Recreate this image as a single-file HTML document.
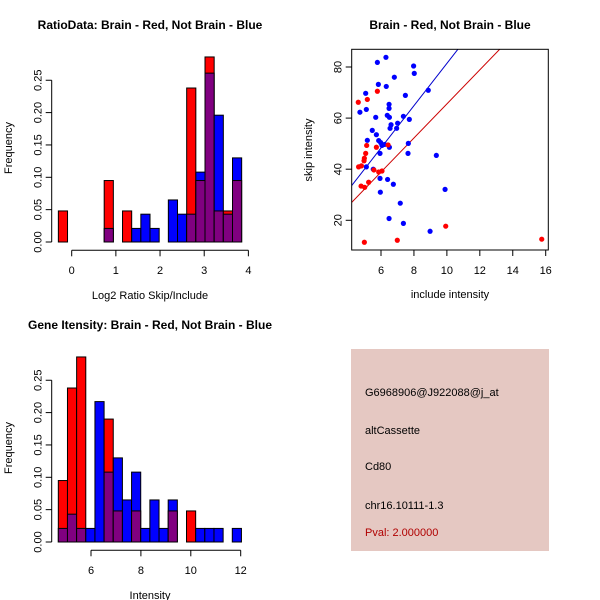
<!DOCTYPE html>
<html><head><meta charset="utf-8"><style>
body{margin:0;background:#fff}
svg{display:block;font-family:"Liberation Sans",sans-serif}
</style></head><body>
<svg id="s" width="600" height="600" xmlns="http://www.w3.org/2000/svg">
<rect width="600" height="600" fill="#fff"/>
<text x="150" y="29" font-size="12" font-weight="bold" text-anchor="middle">RatioData: Brain - Red, Not Brain - Blue</text>
<text x="450" y="29" font-size="12" font-weight="bold" text-anchor="middle">Brain - Red, Not Brain - Blue</text>
<text x="150" y="329" font-size="12" font-weight="bold" text-anchor="middle">Gene Itensity: Brain - Red, Not Brain - Blue</text>
<text x="150" y="299" font-size="11" text-anchor="middle">Log2 Ratio Skip/Include</text>
<text x="150" y="599" font-size="11" text-anchor="middle">Intensity</text>
<text x="450" y="298" font-size="11" text-anchor="middle">include intensity</text>
<text transform="translate(12,148) rotate(-90)" font-size="11" text-anchor="middle">Frequency</text>
<text transform="translate(12,448) rotate(-90)" font-size="11" text-anchor="middle">Frequency</text>
<text transform="translate(312,150) rotate(-90)" font-size="11" text-anchor="middle">skip intensity</text>
<g>
<rect x="351" y="349" width="198" height="202" fill="#e5c8c2"/>
<text x="365" y="396" font-size="11">G6968906@J922088@j_at</text>
<text x="365" y="434" font-size="11">altCassette</text>
<text x="365" y="470" font-size="11">Cd80</text>
<text x="365" y="509" font-size="11">chr16.10111-1.3</text>
<text x="365" y="536" font-size="11" fill="#b00000">Pval: 2.000000</text>
</g>
</svg>
<script>
const ratioRed=[0.048,0,0,0,0,0.095,0,0.048,0,0,0,0,0,0,0.238,0.095,0.286,0.048,0.048,0.095];
const ratioBlue=[0,0,0,0,0,0.021,0,0,0.021,0.043,0.021,0,0.065,0.043,0.043,0.108,0.261,0.196,0.043,0.13];
const ratioStart=-0.302, ratioWidth=0.2075;
const ratioXTicks=[0,1,2,3,4];
const geneRed=[0.095,0.238,0.286,0,0,0.19,0.048,0,0.048,0,0,0,0.048,0,0.048,0,0,0,0,0];
const geneBlue=[0.021,0.043,0.021,0.021,0.217,0.108,0.13,0.065,0.108,0.021,0.065,0.021,0.065,0,0,0.021,0.021,0.021,0,0.021];
const geneStart=4.69, geneWidth=0.367;
const geneXTicks=[6,8,10,12];
const freqTicks=[0,0.05,0.10,0.15,0.20,0.25];
const freqLabels=["0.00","0.05","0.10","0.15","0.20","0.25"];
const blueX=[5.78,6.30,5.84,6.32,6.81,4.72,5.07,5.11,5.68,6.49,6.49,6.51,6.38,6.61,6.55,6.95,7.01,7.36,7.72,7.48,7.98,8.02,8.87,5.47,5.72,5.17,5.86,5.98,6.06,6.22,5.94,6.51,7.66,7.64,5.11,5.53,5.94,6.40,6.75,5.96,9.89,9.36,7.17,6.49,7.36,8.98];
const blueY=[81.8,83.8,73.2,72.4,76.0,62.3,69.7,63.4,60.3,65.4,63.8,60.3,61.1,57.4,56.0,56.0,58.0,60.7,59.5,68.9,80.4,77.5,70.9,55.2,53.5,51.3,51.2,50.4,49.3,49.7,46.2,48.6,50.1,46.2,40.9,40.0,36.4,36.0,34.1,31.0,32.1,45.4,26.7,20.7,18.8,15.7];
const redX=[4.62,5.17,5.78,5.13,5.72,6.43,5.07,4.99,4.97,4.64,4.81,5.57,5.86,6.06,5.25,4.79,5.01,4.99,6.99,9.93,15.76];
const redY=[66.2,67.3,70.5,49.3,48.6,49.5,46.2,44.3,43.3,40.9,41.3,39.7,38.9,39.3,34.9,33.4,32.9,11.4,12.2,17.7,12.6];
const blueFit=[8.27,-1.3];
const redFit=[6.67,-1.15];
const scXTicks=[6,8,10,12,14,16];
const scYTicks=[20,40,60,80];

const NS="http://www.w3.org/2000/svg", svg=document.getElementById('s');
function mk(t,a,p){const e=document.createElementNS(NS,t);for(const k in a)e.setAttribute(k,a[k]);(p||svg).appendChild(e);return e;}

function hist(red,blue,start,w,xt,xs,ys,name,yAxisX,xAxisY,tickLabY){
  const g=mk('g',{});
  
  
  red.forEach((r,i)=>{
    const b=blue[i],x0=xs(start+i*w),x1=xs(start+(i+1)*w);
    const hi=Math.max(r,b),lo=Math.min(r,b);
    if(hi>0){const e=mk('rect',{x:x0,y:ys(hi),width:x1-x0,height:ys(0)-ys(hi),fill:r>=b?'#ff0000':'#0000ff',stroke:'#000','stroke-width':1},g);
      
      }
    if(lo>0){const e=mk('rect',{x:x0,y:ys(lo),width:x1-x0,height:ys(0)-ys(lo),fill:'#800080',stroke:'#000','stroke-width':1},g);
      
      }
  });
  const ya=mk('g',{});
  
  
  mk('line',{x1:yAxisX,x2:yAxisX,y1:ys(0),y2:ys(0.25),stroke:'#000'},ya);
  freqTicks.forEach((v,i)=>{mk('line',{x1:yAxisX-6,x2:yAxisX,y1:ys(v),y2:ys(v),stroke:'#000'},ya);
    const t=mk('text',{transform:`translate(${yAxisX-10},${ys(v)}) rotate(-90)`,'font-size':11,'text-anchor':'middle'},ya);t.textContent=freqLabels[i];});
  const xa=mk('g',{});
  
  
  mk('line',{x1:xs(xt[0]),x2:xs(xt[xt.length-1]),y1:xAxisY,y2:xAxisY,stroke:'#000'},xa);
  xt.forEach(v=>{mk('line',{x1:xs(v),x2:xs(v),y1:xAxisY,y2:xAxisY+6,stroke:'#000'},xa);
    const t=mk('text',{x:xs(v),y:tickLabY,'font-size':11,'text-anchor':'middle'},xa);t.textContent=v;});
}
hist(ratioRed,ratioBlue,ratioStart,ratioWidth,ratioXTicks,v=>71.7+v*44.17,v=>242-v*647,'ratio-histogram',51.7,250.3,274);
hist(geneRed,geneBlue,geneStart,geneWidth,geneXTicks,v=>91+(v-6)*24.95,v=>542-v*647,'gene-histogram',51.7,550.3,574);

// scatter
const sx=v=>381+(v-6)*16.47, sy=v=>67+(80-v)*2.555;
const L=351.7,R=548.3,T=49.3,B=250;
const sg=mk('g',{});


mk('defs',{}).innerHTML='<clipPath id="c"><rect x="351.7" y="49.3" width="196.6" height="200.7"/></clipPath>';
function fit(f,col,nm){const xa=(L-381)/16.47+6,xb=(R-381)/16.47+6;
  const e=mk('line',{x1:sx(xa),y1:sy(f[0]*xa+f[1]),x2:sx(xb),y2:sy(f[0]*xb+f[1]),stroke:col,'stroke-width':1,'clip-path':'url(#c)'},sg);
  
  }
fit(blueFit,'#0000cc','blue-fit-line');fit(redFit,'#cc0000','red-fit-line');
blueX.forEach((x,i)=>{const e=mk('circle',{cx:sx(x),cy:sy(blueY[i]),r:2.6,fill:'#0000ff'},sg);
  
  });
redX.forEach((x,i)=>{const e=mk('circle',{cx:sx(x),cy:sy(redY[i]),r:2.6,fill:'#ff0000'},sg);
  
  });
const fr=mk('rect',{x:L,y:T,width:R-L,height:B-T,fill:'none',stroke:'#000'},sg);


scXTicks.forEach(v=>{mk('line',{x1:sx(v),x2:sx(v),y1:B,y2:B+6,stroke:'#000'},sg);
  const t=mk('text',{x:sx(v),y:274,'font-size':11,'text-anchor':'middle'},sg);t.textContent=v;});
scYTicks.forEach(v=>{mk('line',{x1:L-6,x2:L,y1:sy(v),y2:sy(v),stroke:'#000'},sg);
  const t=mk('text',{transform:`translate(${L-10},${sy(v)}) rotate(-90)`,'font-size':11,'text-anchor':'middle'},sg);t.textContent=v;});
</script>
</body></html>
